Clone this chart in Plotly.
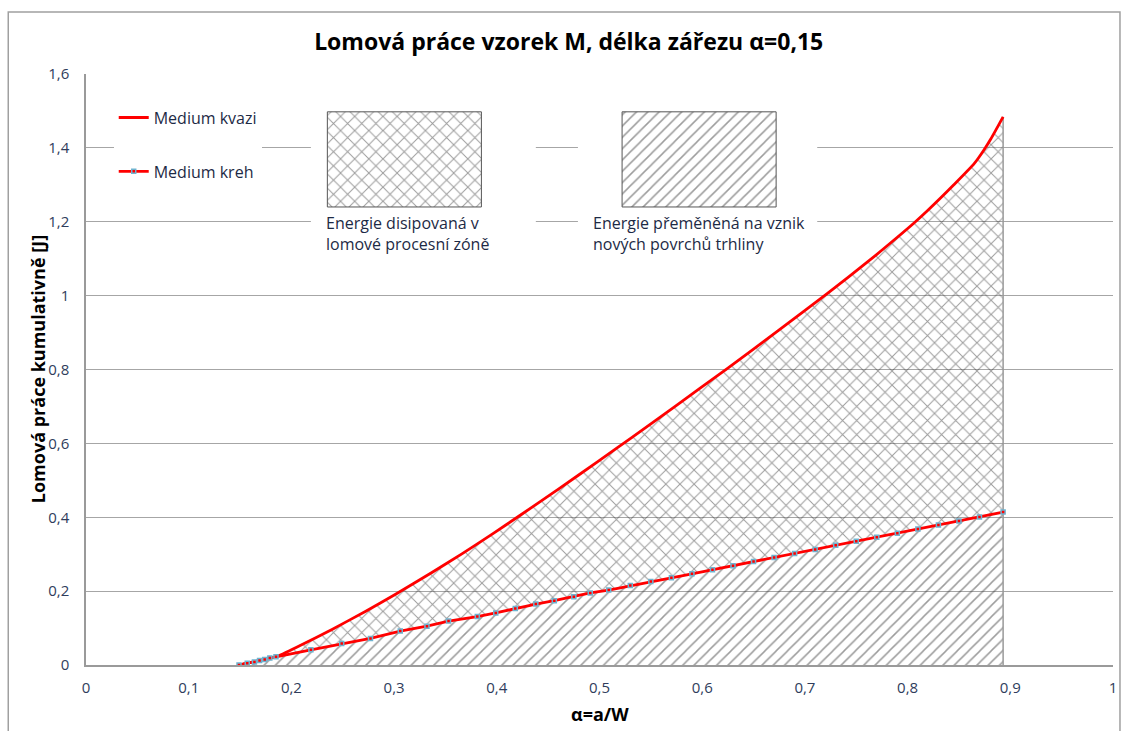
import plotly.graph_objects as go

# ---------------- data ----------------
kvazi_x = [0.149, 0.157, 0.164, 0.169, 0.174, 0.179, 0.185, 0.208, 0.240, 0.272,
           0.301, 0.336, 0.366, 0.397, 0.421, 0.460, 0.499, 0.531, 0.573, 0.624,
           0.674, 0.722, 0.764, 0.790, 0.806, 0.819, 0.845, 0.865, 0.874, 0.881, 0.893]
kvazi_y = [0.000, 0.005, 0.008, 0.012, 0.015, 0.019, 0.022, 0.052, 0.097, 0.145,
           0.191, 0.249, 0.301, 0.357, 0.402, 0.476, 0.552, 0.615, 0.699, 0.802,
           0.905, 1.006, 1.098, 1.158, 1.196, 1.229, 1.300, 1.358, 1.393, 1.424, 1.484]

kreh_x = [0.149, 0.157, 0.164, 0.169, 0.174, 0.179, 0.185, 0.219, 0.249, 0.277,
          0.306, 0.332, 0.353, 0.381, 0.399, 0.418, 0.438, 0.456, 0.475, 0.491,
          0.509, 0.530, 0.550, 0.570, 0.590, 0.610, 0.630, 0.650, 0.670, 0.690,
          0.710, 0.730, 0.750, 0.770, 0.790, 0.810, 0.830, 0.850, 0.870, 0.893]
kreh_y = [0.000, 0.005, 0.008, 0.012, 0.015, 0.019, 0.022, 0.041, 0.058, 0.072,
          0.092, 0.105, 0.119, 0.131, 0.141, 0.153, 0.165, 0.174, 0.185, 0.195,
          0.203, 0.215, 0.226, 0.236, 0.247, 0.258, 0.269, 0.280, 0.291, 0.302,
          0.313, 0.324, 0.335, 0.346, 0.357, 0.368, 0.379, 0.390, 0.401, 0.414]

x_ticks = [0, 0.1, 0.2, 0.3, 0.4, 0.5, 0.6, 0.7, 0.8, 0.9, 1]
x_tick_labels = ["0", "0,1", "0,2", "0,3", "0,4", "0,5", "0,6", "0,7", "0,8", "0,9", "1"]
y_ticks = [0, 0.2, 0.4, 0.6, 0.8, 1.0, 1.2, 1.4, 1.6]
y_tick_labels = ["0", "0,2", "0,4", "0,6", "0,8", "1", "1,2", "1,4", "1,6"]

series_names = ["Medium kvazi", "Medium kreh"]
title_text = "Lomová práce vzorek M, délka zářezu α=0,15"
x_title = "α=a/W"
y_title = "Lomová práce kumulativně [J]"
label_cross = "Energie disipovaná v<br>lomové procesní zóně"
label_diag = "Energie přeměněná na vznik<br>nových povrchů trhliny"

# ---------------- styling ----------------
FONT = "Open Sans"
TICK_COLOR = "#2f3d5c"
TEXT_COLOR = "#1d2a45"
GRID = "#a6a6a6"
HATCH = "#3a3a3a"
RED = "#ff0000"
SOL = 0.19

fig = go.Figure()

# hatched fills
fig.add_trace(go.Scatter(
    x=kreh_x, y=kreh_y, mode="lines", line=dict(width=0, color=HATCH),
    fill="tozeroy", fillcolor="rgba(0,0,0,0)",
    fillpattern=dict(shape="/", fgcolor=HATCH, size=8, solidity=SOL),
    showlegend=False, hoverinfo="skip"))
fig.add_trace(go.Scatter(
    x=kvazi_x, y=kvazi_y, mode="lines",
    line=dict(width=0, color=HATCH, shape="spline", smoothing=0.6),
    fill="tonexty", fillcolor="rgba(0,0,0,0)",
    fillpattern=dict(shape="x", fgcolor=HATCH, size=10, solidity=SOL),
    showlegend=False, hoverinfo="skip"))
# right edge of the filled area
fig.add_trace(go.Scatter(
    x=[kvazi_x[-1], kvazi_x[-1]], y=[0, kvazi_y[-1]], mode="lines",
    line=dict(color="#999999", width=1.5), showlegend=False, hoverinfo="skip"))

# series lines
fig.add_trace(go.Scatter(
    x=kvazi_x, y=kvazi_y, mode="lines", name=series_names[0],
    line=dict(color=RED, width=2.8, shape="spline", smoothing=0.6), legendgroup="a"))
fig.add_trace(go.Scatter(
    x=kreh_x, y=kreh_y, mode="lines+markers", name=series_names[1],
    line=dict(color=RED, width=2.8),
    marker=dict(symbol="square", size=4, color=RED,
                line=dict(color="#6fb3cf", width=1.5)),
    legendgroup="b"))

# ---- decorative key boxes on an overlay axis (plot-fraction units) ----
white_boxes = [([0.219, 0.438], [0.680, 0.955]), ([0.479, 0.712], [0.680, 0.955])]
for bx, by in white_boxes:
    fig.add_trace(go.Scatter(
        x=[bx[0], bx[1], bx[1], bx[0], bx[0]], y=[by[0], by[0], by[1], by[1], by[0]],
        mode="lines", line=dict(width=0), fill="toself", fillcolor="white",
        xaxis="x2", yaxis="y2", showlegend=False, hoverinfo="skip"))

key_boxes = [([0.235, 0.385], [0.775, 0.936], "x", 10),
             ([0.522, 0.672], [0.775, 0.936], "/", 8)]
for bx, by, shp, sz in key_boxes:
    fig.add_trace(go.Scatter(
        x=[bx[0], bx[1], bx[1], bx[0], bx[0]], y=[by[0], by[0], by[1], by[1], by[0]],
        mode="lines", line=dict(width=1, color="#555555"), fill="toself",
        fillcolor="white",
        fillpattern=dict(shape=shp, fgcolor=HATCH, bgcolor="white", size=sz, solidity=SOL),
        xaxis="x2", yaxis="y2", showlegend=False, hoverinfo="skip"))

fig.update_layout(
    width=1125, height=731,
    margin=dict(l=86, r=8, t=74, b=66),
    paper_bgcolor="white", plot_bgcolor="white",
    font=dict(family=FONT, color=TICK_COLOR, size=14),
    title=dict(text="<b>" + title_text + "</b>", x=0.47, xref="paper", xanchor="center",
               y=1 - 42 / 731, yref="container", yanchor="middle",
               font=dict(family=FONT, size=23, color="#000000")),
    xaxis=dict(range=[0, 1], tickvals=x_ticks, ticktext=x_tick_labels,
               showgrid=False, zeroline=False, showline=True, linecolor="#9a9a9a",
               linewidth=1.5, ticks="", ticklabelstandoff=8,
               tickfont=dict(family=FONT, size=15, color=TICK_COLOR)),
    yaxis=dict(range=[0, 1.6], tickvals=y_ticks, ticktext=y_tick_labels,
               showgrid=True, gridcolor=GRID, gridwidth=1, zeroline=False,
               showline=True, linecolor="#9a9a9a", linewidth=1.5, ticks="",
               ticklabelstandoff=12,
               tickfont=dict(family=FONT, size=15, color=TICK_COLOR)),
    xaxis2=dict(range=[0, 1], overlaying="x", visible=False, fixedrange=True),
    yaxis2=dict(range=[0, 1], overlaying="y", visible=False, fixedrange=True),
    showlegend=True,
    legend=dict(x=0.027, y=0.955, xanchor="left", yanchor="top",
                bgcolor="white", traceorder="grouped", tracegroupgap=30,
                itemwidth=30,
                font=dict(family=FONT, size=16, color=TEXT_COLOR)),
    annotations=[
        dict(text=label_cross, xref="paper", yref="paper", x=0.232, y=0.770,
             xanchor="left", yanchor="top", align="left", showarrow=False,
             font=dict(family=FONT, size=16, color=TEXT_COLOR)),
        dict(text=label_diag, xref="paper", yref="paper", x=0.492, y=0.770,
             xanchor="left", yanchor="top", align="left", showarrow=False,
             font=dict(family=FONT, size=16, color=TEXT_COLOR)),
        dict(text="<b>" + x_title + "</b>", xref="paper", yref="paper", x=0.5,
             y=-0.083, xanchor="center", yanchor="middle", showarrow=False,
             font=dict(family=FONT, size=18, color="#000000")),
        dict(text="<b>" + y_title + "</b>", xref="paper", yref="paper", x=-0.047,
             y=0.5, xanchor="center", yanchor="middle", textangle=-90, showarrow=False,
             font=dict(family=FONT, size=18, color="#000000")),
    ],
    shapes=[dict(type="rect", xref="paper", yref="paper", x0=-0.0757, x1=1.0068,
                 y0=-0.2, y1=1.105, line=dict(color="#a0a0a0", width=1.5),
                 fillcolor="rgba(0,0,0,0)", layer="above")],
)

fig.write_html("out.html")
